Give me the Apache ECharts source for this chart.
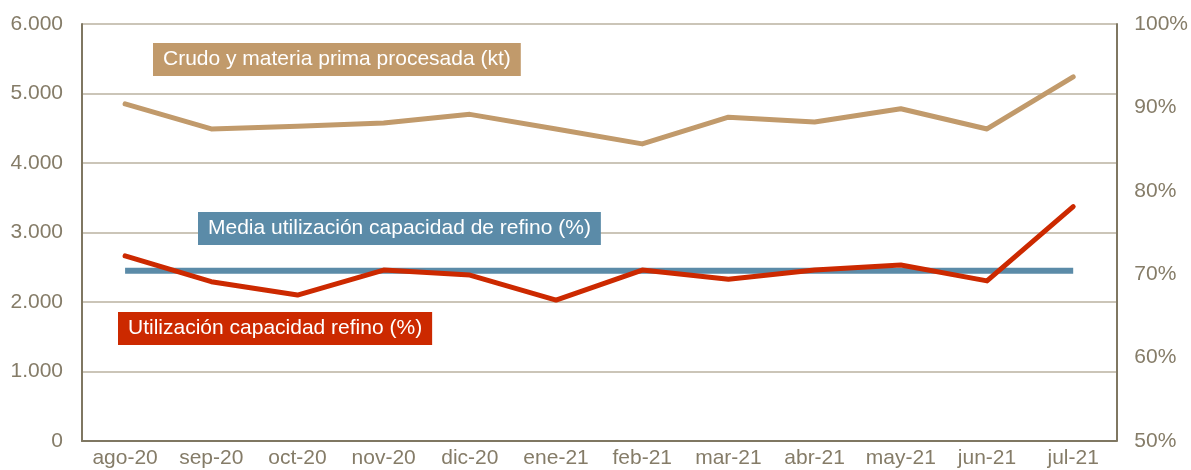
<!DOCTYPE html>
<html>
<head>
<meta charset="utf-8">
<script src="https://cdn.jsdelivr.net/npm/echarts@6/dist/echarts.min.js"></script>
<style>
  html, body { margin: 0; padding: 0; background: #fff; }
  #chart { width: 1191px; height: 470px; }
</style>
</head>
<body>
<div id="chart"></div>
<script>
// Months of the period
const months = ['ago-20', 'sep-20', 'oct-20', 'nov-20', 'dic-20', 'ene-21',
                'feb-21', 'mar-21', 'abr-21', 'may-21', 'jun-21', 'jul-21'];

// Crude and raw material processed (kt), left axis
const crudoKt = [4850, 4490, 4530, 4575, 4700, 4490, 4275, 4660, 4590, 4780, 4490, 5240];

// Refining capacity utilisation (%), right axis
const utilizacion = [72.2, 69.1, 67.5, 70.5, 69.9, 66.9, 70.5, 69.4, 70.5, 71.1, 69.2, 78.1];

// Average utilisation over the period (%), right axis
const mediaUtilizacion = [70.4, 70.4, 70.4, 70.4, 70.4, 70.4, 70.4, 70.4, 70.4, 70.4, 70.4, 70.4];

// Left and right axis ranges
const leftAxis = { min: 0, max: 6000, interval: 1000 };
const rightAxis = { min: 50, max: 100, interval: 10 };

const FONT = 'Liberation Sans, Arial, sans-serif';
const AXIS_TEXT = '#857c68';
const AXIS_LINE = '#7f7762';
const GRID_LINE = '#cbc5b8';

const chart = echarts.init(document.getElementById('chart'), null, { renderer: 'canvas' });

function tagBox(text, left, top, color) {
  return {
    type: 'text',
    left: left,
    top: top,
    z: 100,
    style: {
      text: text,
      fill: '#ffffff',
      font: '21px ' + FONT,
      backgroundColor: color,
      padding: [6, 10, 6, 10]
    }
  };
}

chart.setOption({
  animation: false,
  backgroundColor: '#ffffff',
  grid: { left: 82, right: 73, top: 24, bottom: 29 },
  xAxis: {
    type: 'category',
    data: months,
    boundaryGap: true,
    axisLine: { show: true, lineStyle: { color: AXIS_LINE, width: 2 } },
    axisTick: { show: false },
    axisLabel: { color: AXIS_TEXT, fontSize: 21, fontFamily: FONT, margin: 7, interval: 0 }
  },
  yAxis: [
    {
      type: 'value',
      position: 'left',
      min: leftAxis.min, max: leftAxis.max, interval: leftAxis.interval,
      axisLine: { show: true, lineStyle: { color: AXIS_LINE, width: 2 } },
      axisTick: { show: false },
      splitLine: { show: true, lineStyle: { color: GRID_LINE, width: 2 } },
      axisLabel: {
        color: AXIS_TEXT, fontSize: 21, fontFamily: FONT, margin: 19,
        formatter: v => v === 0 ? '0' : (v / 1000).toFixed(0) + '.000'
      }
    },
    {
      type: 'value',
      position: 'right',
      min: rightAxis.min, max: rightAxis.max, interval: rightAxis.interval,
      axisLine: { show: true, lineStyle: { color: AXIS_LINE, width: 2 } },
      axisTick: { show: false },
      splitLine: { show: false },
      axisLabel: {
        color: AXIS_TEXT, fontSize: 21, fontFamily: FONT, margin: 18,
        formatter: '{value}%'
      }
    }
  ],
  series: [
    {
      name: 'Crudo y materia prima procesada (kt)',
      type: 'line',
      yAxisIndex: 0,
      data: crudoKt,
      symbol: 'none',
      lineStyle: { color: '#c19a6b', width: 5, cap: 'round', join: 'round' },
      z: 3
    },
    {
      name: 'Media utilización capacidad de refino (%)',
      type: 'line',
      yAxisIndex: 1,
      data: mediaUtilizacion,
      symbol: 'none',
      lineStyle: { color: '#5b8ba8', width: 6, cap: 'butt' },
      z: 2
    },
    {
      name: 'Utilización capacidad refino (%)',
      type: 'line',
      yAxisIndex: 1,
      data: utilizacion,
      symbol: 'none',
      lineStyle: { color: '#cc2900', width: 5, cap: 'round', join: 'round' },
      z: 4
    }
  ],
  graphic: [
    tagBox('Crudo y materia prima procesada (kt)', 153, 43, '#c19a6b'),
    tagBox('Media utilización capacidad de refino (%)', 198, 212, '#5b8ba8'),
    tagBox('Utilización capacidad refino (%)', 118, 312, '#cc2900')
  ]
});
</script>
</body>
</html>
